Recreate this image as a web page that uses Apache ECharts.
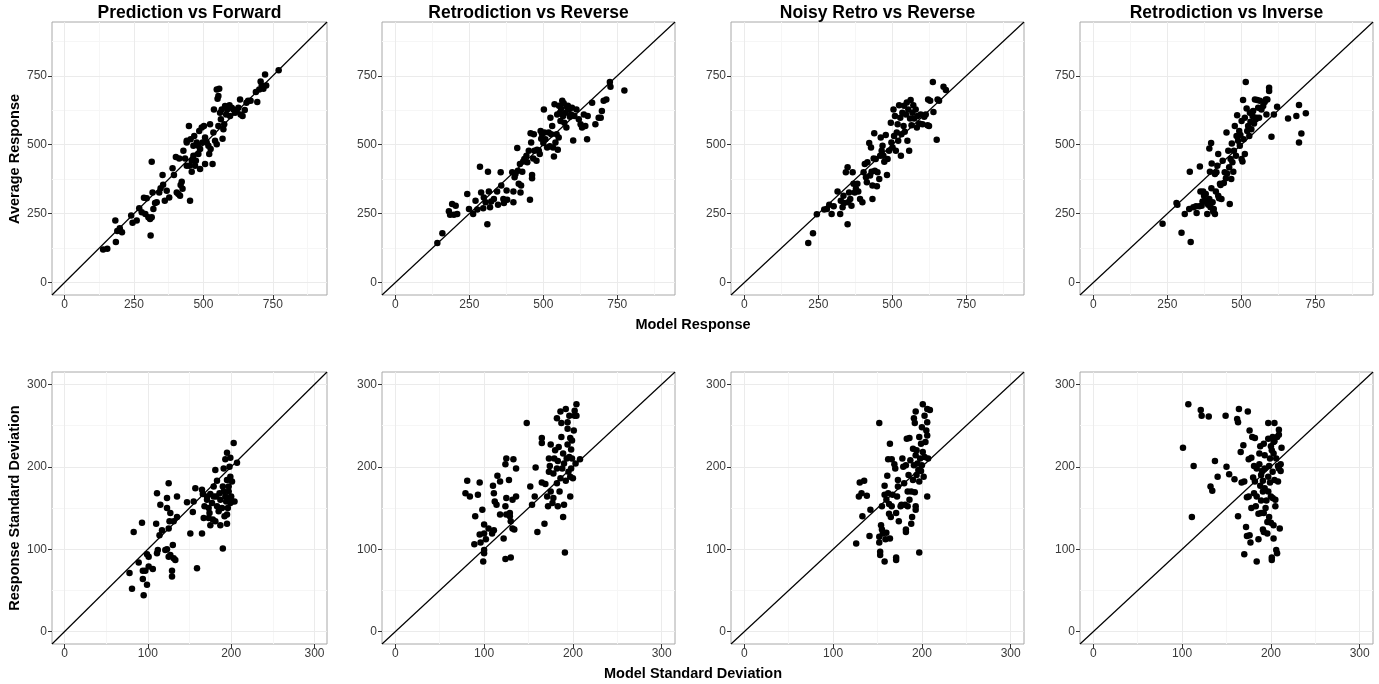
<!DOCTYPE html>
<html>
<head>
<meta charset="utf-8">
<script src="https://cdn.jsdelivr.net/npm/echarts@6/dist/echarts.min.js"></script>
<style>
html,body{margin:0;padding:0;background:#fff;}
#chart{width:1379px;height:684px;}
</style>
</head>
<body>
<div id="chart"></div>
<script>
// ---------- data ----------
const panelTitles = ['Prediction vs Forward', 'Retrodiction vs Reverse', 'Noisy Retro vs Reverse', 'Retrodiction vs Inverse'];
const meanTicks = [0, 250, 500, 750];
const meanMinor = [125, 375, 625, 875];
const sdTicks = [0, 100, 200, 300];
const sdMinor = [50, 150, 250];

// [model response, average response]
const predFwdMean = [[139,120],[154,123],[183,225],[185,147],[190,187],[199,197],[207,183],[240,243],[245,217],[260,225],[269,270],[278,255],[286,308],[291,249],[296,306],[302,237],[308,231],[314,237],[310,171],[314,438],[317,327],[320,267],[326,289],[332,291],[341,327],[346,342],[353,390],[355,355],[361,297],[368,333],[377,309],[389,415],[394,390],[401,455],[404,327],[410,321],[413,450],[416,315],[418,354],[422,366],[425,340],[428,478],[434,450],[440,424],[448,568],[440,514],[452,297],[454,520],[458,442],[458,402],[464,460],[464,496],[467,532],[473,442],[476,508],[482,496],[485,550],[488,484],[494,562],[497,508],[502,568],[506,526],[512,508],[518,496],[521,466],[524,574],[526,484],[533,430],[536,544],[538,628],[542,514],[548,502],[548,700],[551,667],[554,677],[557,703],[554,568],[560,616],[563,592],[566,628],[569,522],[572,556],[575,574],[578,640],[582,610],[586,628],[594,643],[596,604],[602,634],[608,628],[614,616],[620,622],[626,634],[632,664],[634,610],[641,604],[649,626],[655,652],[661,659],[670,659],[689,691],[694,655],[701,700],[706,729],[710,715],[716,703],[722,755],[726,715],[771,770],[440,508],[450,424],[470,424],[488,412],[506,430],[482,466]];

const retroRevMean = [[142,144],[159,179],[181,259],[185,246],[192,285],[198,246],[204,279],[209,249],[243,321],[249,267],[263,249],[271,297],[277,265],[286,420],[290,327],[297,270],[299,309],[305,291],[311,212],[313,402],[316,330],[320,273],[324,294],[333,303],[344,330],[347,282],[356,400],[358,352],[365,303],[367,289],[376,334],[378,300],[395,400],[399,330],[399,291],[403,382],[406,394],[412,488],[414,406],[417,358],[421,430],[423,327],[425,352],[429,402],[432,439],[436,448],[443,460],[446,436],[451,478],[455,300],[457,542],[459,508],[462,390],[462,378],[466,450],[468,538],[470,478],[477,442],[479,482],[485,478],[488,466],[491,550],[493,522],[496,538],[500,506],[502,628],[504,544],[507,520],[513,490],[518,544],[522,494],[524,598],[527,538],[530,568],[533,490],[536,457],[538,647],[541,508],[545,538],[547,610],[549,482],[552,526],[553,641],[556,616],[558,586],[560,631],[564,659],[567,604],[569,650],[571,580],[575,616],[578,562],[580,637],[583,641],[586,628],[590,601],[594,610],[597,634],[601,515],[605,604],[612,628],[620,592],[626,574],[631,562],[637,610],[642,568],[648,520],[650,604],[665,652],[676,574],[687,598],[694,598],[698,622],[704,659],[713,664],[725,727],[727,710],[774,697]];

const noisyRevMean = [[216,144],[232,179],[245,248],[270,265],[279,267],[287,282],[295,249],[302,277],[315,330],[324,249],[326,297],[332,273],[335,315],[337,289],[343,400],[349,418],[349,212],[351,291],[354,327],[358,303],[362,279],[366,400],[369,358],[373,327],[377,340],[382,358],[385,330],[391,303],[399,291],[403,400],[407,430],[411,382],[414,364],[416,436],[422,506],[425,388],[428,490],[430,402],[433,352],[433,303],[437,450],[439,542],[441,406],[444,448],[448,349],[450,400],[456,376],[459,460],[461,526],[464,478],[467,496],[470,460],[473,438],[478,535],[482,390],[484,448],[489,478],[495,580],[497,508],[501,490],[504,628],[506,532],[509,604],[512,478],[515,544],[518,574],[520,514],[523,643],[527,598],[529,460],[531,538],[534,616],[538,568],[540,641],[542,547],[546,610],[549,653],[551,514],[554,628],[557,478],[560,595],[562,662],[565,571],[568,616],[571,643],[574,595],[579,628],[583,562],[585,604],[591,577],[596,610],[602,574],[608,601],[613,610],[619,571],[621,664],[624,568],[628,659],[637,727],[639,619],[650,518],[653,664],[658,659],[673,710],[681,698]];

const retroInvMean = [[234,213],[281,289],[284,282],[298,181],[309,249],[324,267],[326,402],[329,147],[338,273],[347,277],[349,252],[358,277],[360,421],[362,330],[366,279],[369,294],[371,330],[374,315],[377,297],[380,321],[383,291],[385,249],[388,282],[392,486],[392,303],[394,402],[396,273],[398,506],[399,342],[400,432],[403,291],[405,258],[407,267],[411,249],[411,394],[414,330],[416,400],[419,424],[422,466],[422,315],[425,306],[428,358],[430,354],[433,303],[437,442],[441,361],[444,400],[448,378],[450,544],[452,396],[456,478],[459,418],[461,285],[464,448],[466,376],[468,504],[470,436],[473,402],[475,478],[478,568],[482,460],[484,532],[486,607],[489,514],[493,550],[495,496],[497,535],[501,586],[501,448],[504,439],[506,662],[508,520],[512,598],[512,466],[515,727],[518,631],[520,550],[523,568],[527,532],[529,616],[531,583],[534,556],[538,604],[540,622],[543,577],[546,664],[549,592],[551,598],[554,662],[557,634],[560,598],[563,659],[568,628],[574,640],[579,655],[583,664],[585,610],[588,664],[594,707],[594,695],[602,529],[610,610],[621,638],[658,595],[686,604],[695,644],[695,508],[703,541],[718,614]];

// [model sd, response sd]
const predFwdSd = [[78,71],[81,52],[83,121],[89,84],[93,132],[94,64],[94,74],[95,44],[97,74],[99,94],[99,57],[101,91],[101,79],[106,76],[110,131],[111,168],[111,95],[112,99],[114,117],[115,154],[117,123],[121,99],[123,100],[123,162],[123,150],[125,91],[125,180],[125,125],[126,134],[127,144],[127,93],[129,74],[129,67],[130,105],[131,134],[131,89],[133,87],[135,164],[135,139],[147,157],[151,119],[154,145],[155,158],[157,174],[159,77],[165,172],[165,119],[166,167],[167,138],[168,152],[171,164],[171,160],[173,150],[173,138],[174,144],[175,129],[175,167],[177,156],[178,136],[179,164],[179,176],[181,196],[181,134],[182,164],[183,152],[183,183],[185,146],[186,168],[187,129],[187,160],[189,150],[190,101],[190,176],[191,170],[191,198],[192,140],[193,164],[193,209],[194,158],[195,217],[195,142],[195,184],[195,131],[196,150],[197,170],[197,176],[198,200],[199,162],[199,211],[199,156],[199,188],[200,164],[201,182],[201,158],[203,229],[204,158],[207,205]];

const retroRevSd = [[79,168],[81,183],[84,164],[89,106],[90,140],[93,166],[95,181],[95,118],[96,108],[98,148],[99,85],[100,130],[100,119],[100,95],[100,99],[102,112],[105,125],[109,119],[110,177],[111,168],[111,123],[112,158],[114,154],[115,189],[118,142],[118,182],[122,113],[124,152],[124,203],[125,210],[125,162],[125,142],[124,88],[128,184],[129,144],[129,140],[130,134],[130,90],[132,160],[132,125],[133,209],[134,124],[136,198],[136,164],[148,253],[152,176],[154,154],[157,164],[158,199],[160,121],[165,181],[165,235],[165,229],[168,131],[169,179],[171,164],[172,152],[173,210],[173,194],[174,201],[175,227],[175,170],[177,156],[178,192],[178,162],[179,210],[180,220],[182,259],[182,180],[182,198],[183,152],[183,207],[184,224],[185,170],[186,267],[186,186],[187,236],[187,253],[188,198],[189,139],[189,216],[190,204],[190,154],[191,96],[192,270],[192,183],[193,210],[194,246],[194,254],[194,227],[195,194],[196,262],[196,212],[197,235],[197,188],[197,164],[198,221],[198,198],[199,210],[199,232],[200,186],[201,244],[202,262],[202,268],[203,204],[204,276],[204,262],[208,209]];

const noisyRevSd = [[126,107],[129,164],[130,181],[132,168],[133,140],[135,183],[138,165],[141,116],[142,148],[152,253],[152,108],[152,115],[153,97],[153,93],[154,129],[155,152],[155,124],[156,119],[158,85],[158,166],[158,177],[159,112],[160,120],[160,160],[161,189],[162,168],[162,209],[163,155],[163,143],[164,228],[164,113],[165,139],[166,209],[166,152],[167,166],[169,203],[170,198],[171,144],[171,90],[171,87],[172,164],[173,184],[173,176],[174,134],[176,152],[177,154],[178,210],[179,200],[180,180],[181,154],[182,124],[182,202],[182,121],[183,234],[184,170],[184,152],[185,190],[186,235],[186,160],[187,208],[188,170],[188,131],[189,139],[190,184],[190,222],[191,259],[191,202],[192,169],[192,253],[193,214],[193,267],[193,152],[193,148],[194,190],[194,220],[195,204],[196,196],[197,236],[197,96],[197,182],[198,210],[199,228],[199,195],[200,202],[200,248],[201,276],[201,218],[202,188],[203,262],[203,212],[204,230],[205,244],[206,254],[206,270],[206,164],[206,238],[207,210],[209,269]];

const retroInvSd = [[101,223],[107,276],[111,139],[113,201],[121,269],[122,262],[130,261],[132,176],[134,171],[137,207],[140,188],[149,262],[150,200],[153,191],[159,185],[162,258],[163,254],[163,140],[164,270],[166,218],[167,181],[169,226],[170,182],[170,94],[172,127],[173,163],[173,116],[174,267],[175,209],[175,164],[176,244],[176,117],[177,108],[178,211],[178,150],[179,236],[180,187],[181,201],[181,168],[182,235],[182,182],[183,152],[184,164],[184,85],[184,198],[186,112],[186,143],[187,216],[187,203],[188,177],[188,225],[189,159],[189,190],[189,144],[190,195],[191,124],[191,183],[191,170],[192,144],[192,228],[192,121],[193,198],[193,214],[193,174],[194,150],[195,159],[196,119],[196,133],[197,253],[197,170],[197,234],[197,188],[198,139],[198,201],[199,210],[199,181],[200,225],[200,164],[200,132],[201,220],[201,90],[201,87],[202,236],[202,162],[202,194],[203,216],[203,230],[203,113],[203,129],[204,253],[204,231],[204,184],[205,152],[205,160],[206,99],[206,210],[207,95],[207,236],[208,182],[208,201],[209,198],[209,239],[209,245],[210,125],[211,195],[211,203],[212,223]];

const meanSets = [predFwdMean, retroRevMean, noisyRevMean, retroInvMean];
const sdSets = [predFwdSd, retroRevSd, noisyRevSd, retroInvSd];

// ---------- layout ----------
const meanRange = [-45, 945];
const sdRange = [-15, 315];
const cols = [{left: 52, width: 275}, {left: 382, width: 293}, {left: 731, width: 293}, {left: 1080, width: 293}];
const rows = [{top: 22, height: 273}, {top: 372, height: 272}];

const FONT = '"Liberation Sans", Arial, Helvetica, sans-serif';
const BORDER = '#a8a8a8';
const TICK = '#333333';
const MAJOR = '#ebebeb';
const MINOR = '#f6f6f6';

const grids = [], xAxes = [], yAxes = [], series = [];

function axisDef(range, ticks, gi, isX) {
  return {
    type: 'value', gridIndex: gi, min: range[0], max: range[1],
    axisLine: {show: false, onZero: false},
    splitLine: {show: false},
    axisTick: {show: true, length: 4, inside: false, customValues: ticks, lineStyle: {color: TICK, width: 1}},
    axisLabel: {customValues: ticks, color: '#3a3a3a', fontSize: 12, fontFamily: FONT, margin: isX ? 4 : 5,
                showMinLabel: true, showMaxLabel: true},
    animation: false
  };
}

let gi = 0;
rows.forEach((r, ri) => {
  cols.forEach((c, ci) => {
    grids.push({left: c.left, top: r.top, width: c.width, height: r.height, show: true,
      borderColor: BORDER, borderWidth: 1, backgroundColor: 'transparent', containLabel: false});
    const range = ri === 0 ? meanRange : sdRange;
    const ticks = ri === 0 ? meanTicks : sdTicks;
    const minor = ri === 0 ? meanMinor : sdMinor;
    xAxes.push(axisDef(range, ticks, gi, true));
    yAxes.push(axisDef(range, ticks, gi, false));
    const gridLines = [];
    minor.forEach(v => { gridLines.push({xAxis: v, lineStyle: {color: MINOR}}); gridLines.push({yAxis: v, lineStyle: {color: MINOR}}); });
    ticks.forEach(v => { gridLines.push({xAxis: v, lineStyle: {color: MAJOR}}); gridLines.push({yAxis: v, lineStyle: {color: MAJOR}}); });
    series.push({
      type: 'line', xAxisIndex: gi, yAxisIndex: gi, z: 2,
      data: [[range[0], range[0]], [range[1], range[1]]],
      symbol: 'none', lineStyle: {color: '#000', width: 1.2}, silent: true, animation: false,
      markLine: {z: 0, silent: true, symbol: ['none', 'none'], label: {show: false}, animation: false,
        lineStyle: {type: 'solid', width: 1}, data: gridLines}
    });
    series.push({
      type: 'scatter', xAxisIndex: gi, yAxisIndex: gi, z: 3,
      data: ri === 0 ? meanSets[ci] : sdSets[ci],
      symbol: 'circle', symbolSize: 6.5, itemStyle: {color: '#000', opacity: 1}, animation: false, silent: true
    });
    gi++;
  });
});

const graphics = [];
cols.forEach((c, ci) => {
  graphics.push({type: 'text', x: c.left + c.width / 2, y: 13,
    style: {text: panelTitles[ci], fill: '#000', fontSize: 17.5, fontWeight: 'bold', fontFamily: FONT, align: 'center', verticalAlign: 'middle'}});
});
const axTitle = {fill: '#000', fontSize: 14.5, fontWeight: 'bold', fontFamily: FONT, align: 'center', verticalAlign: 'middle'};
graphics.push({type: 'text', x: 15, y: 159, rotation: Math.PI / 2, style: Object.assign({text: 'Average Response'}, axTitle)});
graphics.push({type: 'text', x: 15, y: 508, rotation: Math.PI / 2, style: Object.assign({text: 'Response Standard Deviation'}, axTitle)});
graphics.push({type: 'text', x: 693, y: 325, style: Object.assign({text: 'Model Response'}, axTitle)});
graphics.push({type: 'text', x: 693, y: 674, style: Object.assign({text: 'Model Standard Deviation'}, axTitle)});

const chart = echarts.init(document.getElementById('chart'), null, {renderer: 'canvas'});
chart.setOption({
  backgroundColor: '#fff',
  animation: false,
  grid: grids,
  xAxis: xAxes,
  yAxis: yAxes,
  series: series,
  graphic: graphics
});
</script>
</body>
</html>
